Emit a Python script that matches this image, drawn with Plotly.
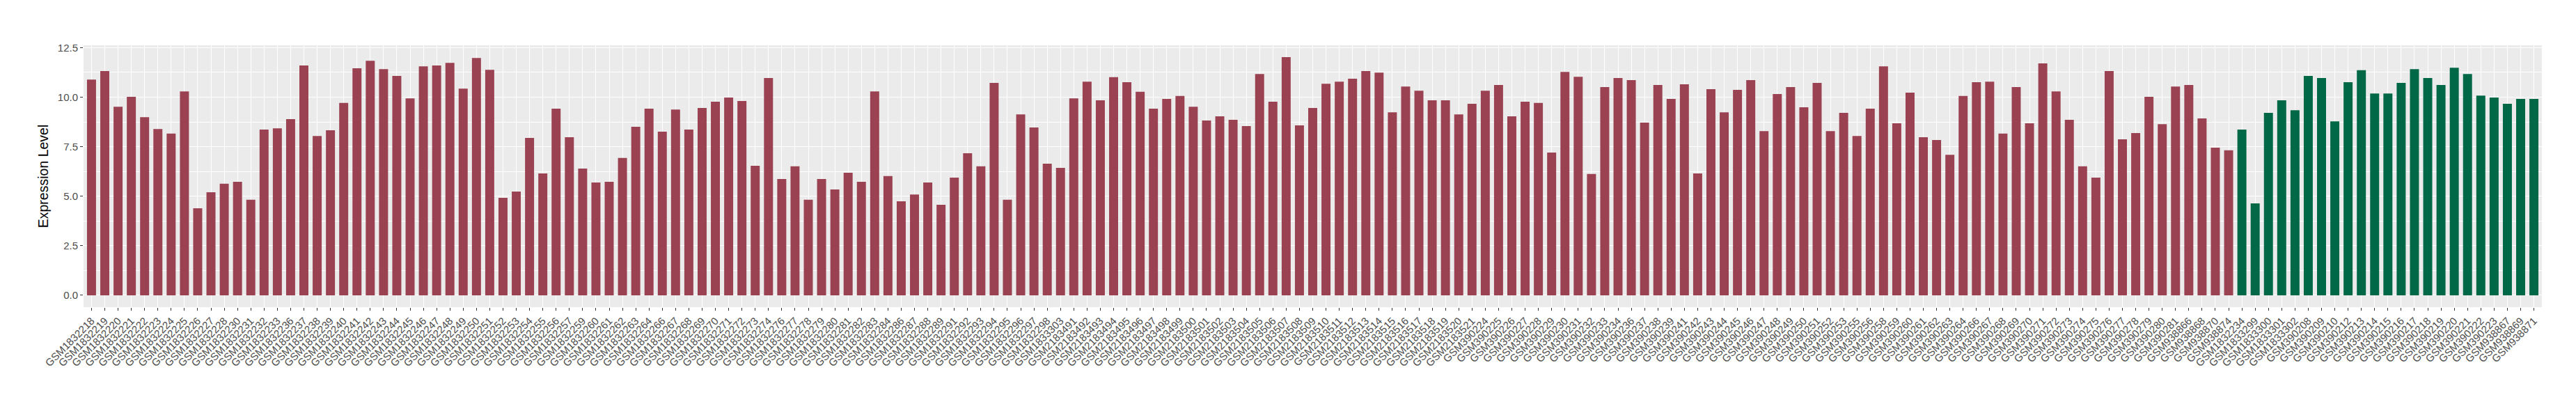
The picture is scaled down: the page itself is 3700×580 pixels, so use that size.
import plotly.graph_objects as go

# samples of the first group (red bars), in plotting order
red_samples = [
    "GSM1832218", "GSM1832219", "GSM1832220", "GSM1832221", "GSM1832222",
    "GSM1832223", "GSM1832224", "GSM1832225", "GSM1832226", "GSM1832227",
    "GSM1832228", "GSM1832230", "GSM1832231", "GSM1832232", "GSM1832233",
    "GSM1832236", "GSM1832237", "GSM1832238", "GSM1832239", "GSM1832240",
    "GSM1832241", "GSM1832242", "GSM1832243", "GSM1832244", "GSM1832245",
    "GSM1832246", "GSM1832247", "GSM1832248", "GSM1832249", "GSM1832250",
    "GSM1832251", "GSM1832252", "GSM1832253", "GSM1832254", "GSM1832255",
    "GSM1832256", "GSM1832257", "GSM1832259", "GSM1832260", "GSM1832261",
    "GSM1832262", "GSM1832263", "GSM1832264", "GSM1832266", "GSM1832267",
    "GSM1832268", "GSM1832269", "GSM1832270", "GSM1832271", "GSM1832272",
    "GSM1832273", "GSM1832274", "GSM1832276", "GSM1832277", "GSM1832278",
    "GSM1832279", "GSM1832280", "GSM1832281", "GSM1832282", "GSM1832283",
    "GSM1832284", "GSM1832286", "GSM1832287", "GSM1832288", "GSM1832289",
    "GSM1832291", "GSM1832292", "GSM1832293", "GSM1832294", "GSM1832295",
    "GSM1832296", "GSM1832297", "GSM1832298", "GSM1833303", "GSM2183491",
    "GSM2183492", "GSM2183493", "GSM2183494", "GSM2183495", "GSM2183496",
    "GSM2183497", "GSM2183498", "GSM2183499", "GSM2183500", "GSM2183501",
    "GSM2183502", "GSM2183503", "GSM2183504", "GSM2183505", "GSM2183506",
    "GSM2183507", "GSM2183508", "GSM2183509", "GSM2183510", "GSM2183511",
    "GSM2183512", "GSM2183513", "GSM2183514", "GSM2183515", "GSM2183516",
    "GSM2183517", "GSM2183518", "GSM2183519", "GSM2183520", "GSM2183521",
    "GSM390224", "GSM390225", "GSM390226", "GSM390227", "GSM390228",
    "GSM390229", "GSM390230", "GSM390231", "GSM390232", "GSM390233",
    "GSM390234", "GSM390236", "GSM390237", "GSM390238", "GSM390239",
    "GSM390241", "GSM390242", "GSM390243", "GSM390244", "GSM390245",
    "GSM390246", "GSM390247", "GSM390248", "GSM390249", "GSM390250",
    "GSM390251", "GSM390252", "GSM390253", "GSM390255", "GSM390256",
    "GSM390258", "GSM390259", "GSM390260", "GSM390261", "GSM390262",
    "GSM390263", "GSM390264", "GSM390266", "GSM390267", "GSM390268",
    "GSM390269", "GSM390270", "GSM390271", "GSM390272", "GSM390273",
    "GSM390274", "GSM390275", "GSM390276", "GSM390277", "GSM390278",
    "GSM390279", "GSM390280", "GSM390281", "GSM938866", "GSM938868",
    "GSM938870", "GSM938874",
]
red_values = [
    10.89, 11.32, 9.52, 10.02, 8.99, 8.39, 8.16, 10.29, 4.39, 5.20,
    5.63, 5.73, 4.82, 8.37, 8.43, 8.89, 11.60, 8.04, 8.33, 9.71,
    11.46, 11.84, 11.42, 11.07, 9.94, 11.56, 11.60, 11.73, 10.43, 11.98,
    11.38, 4.92, 5.24, 7.94, 6.15, 9.42, 7.98, 6.40, 5.69, 5.73,
    6.93, 8.51, 9.42, 8.26, 9.38, 8.37, 9.46, 9.77, 9.98, 9.81,
    6.54, 10.97, 5.87, 6.51, 4.82, 5.87, 5.34, 6.19, 5.73, 10.29,
    6.02, 4.74, 5.09, 5.69, 4.57, 5.94, 7.17, 6.51, 10.72, 4.82,
    9.13, 8.47, 6.64, 6.43, 9.94, 10.78, 9.84, 11.01, 10.76, 10.27,
    9.42, 9.91, 10.06, 9.52, 8.82, 9.03, 8.86, 8.54, 11.17, 9.77,
    12.02, 8.58, 9.46, 10.68, 10.78, 10.93, 11.32, 11.24, 9.24, 10.54,
    10.33, 9.84, 9.84, 9.13, 9.67, 10.33, 10.62, 9.03, 9.77, 9.71,
    7.21, 11.28, 11.03, 6.12, 10.51, 10.97, 10.86, 8.72, 10.62, 9.91,
    10.65, 6.15, 10.41, 9.24, 10.37, 10.86, 8.29, 10.16, 10.51, 9.49,
    10.72, 8.29, 9.21, 8.04, 9.42, 11.56, 8.68, 10.23, 7.98, 7.84,
    7.09, 10.06, 10.76, 10.78, 8.16, 10.51, 8.68, 11.71, 10.29, 8.86,
    6.51, 5.94, 11.32, 7.87, 8.19, 10.02, 8.64, 10.54, 10.62, 8.93,
    7.45, 7.32,
]

# samples of the second group (green bars)
green_samples = [
    "GSM1832234", "GSM1833299", "GSM1833300", "GSM1833301", "GSM1833302",
    "GSM390208", "GSM390209", "GSM390210", "GSM390212", "GSM390213",
    "GSM390214", "GSM390215", "GSM390216", "GSM390217", "GSM390218",
    "GSM390219", "GSM390220", "GSM390221", "GSM390222", "GSM390223",
    "GSM938867", "GSM938869", "GSM938871",
]
green_values = [
    8.37, 4.64, 9.21, 9.84, 9.34,
    11.07, 10.97, 8.78, 10.76, 11.36,
    10.19, 10.19, 10.72, 11.42, 10.97,
    10.62, 11.49, 11.17, 10.08, 9.98,
    9.67, 9.91, 9.91,
]

y_ticks = [0.0, 2.5, 5.0, 7.5, 10.0, 12.5]

RED = "#9B4252"
GREEN = "#006847"

samples = red_samples + green_samples
values = red_values + green_values
bar_colors = [RED] * len(red_samples) + [GREEN] * len(green_samples)

fig = go.Figure(
    go.Bar(
        x=samples,
        y=values,
        marker=dict(color=bar_colors, line=dict(width=0)),
        showlegend=False,
    )
)

# ggplot-like 5% expansion of the value axis
y_max = max(values)
pad = 0.05 * y_max
n = len(samples)

fig.update_layout(
    width=3700,
    height=580,
    margin=dict(l=112, r=57, t=57, b=147, autoexpand=False),
    paper_bgcolor="white",
    plot_bgcolor="#EBEBEB",
    bargap=0.32,
    font=dict(family="Liberation Sans, Arial, sans-serif", color="#4D4D4D"),
)
fig.update_xaxes(
    type="category",
    categoryorder="array",
    categoryarray=samples,
    tickmode="array",
    tickvals=samples,
    ticktext=samples,
    tickangle=-45,
    tickfont=dict(size=15, color="#4D4D4D"),
    range=[-0.6, n - 0.4],
    showgrid=True,
    gridcolor="white",
    gridwidth=1.2,
    ticks="outside",
    ticklen=4,
    tickwidth=1,
    tickcolor="#333333",
    showline=False,
    zeroline=False,
    automargin=False,
)
fig.update_yaxes(
    title=dict(
        text="Expression Level",
        font=dict(size=19.5, color="black"),
        standoff=7,
    ),
    range=[-pad, y_max + pad],
    tickmode="array",
    tickvals=y_ticks,
    ticktext=[f"{t:.1f}" for t in y_ticks],
    tickfont=dict(size=15, color="#4D4D4D"),
    showgrid=True,
    gridcolor="white",
    gridwidth=1.2,
    minor=dict(tickmode="array", tickvals=[1.25, 3.75, 6.25, 8.75, 11.25],
               showgrid=True, gridcolor="white", gridwidth=0.6, ticks=""),
    ticks="outside",
    ticklen=4,
    tickwidth=1,
    tickcolor="#333333",
    zeroline=False,
    showline=False,
    automargin=False,
)

fig.write_html("out.html")
